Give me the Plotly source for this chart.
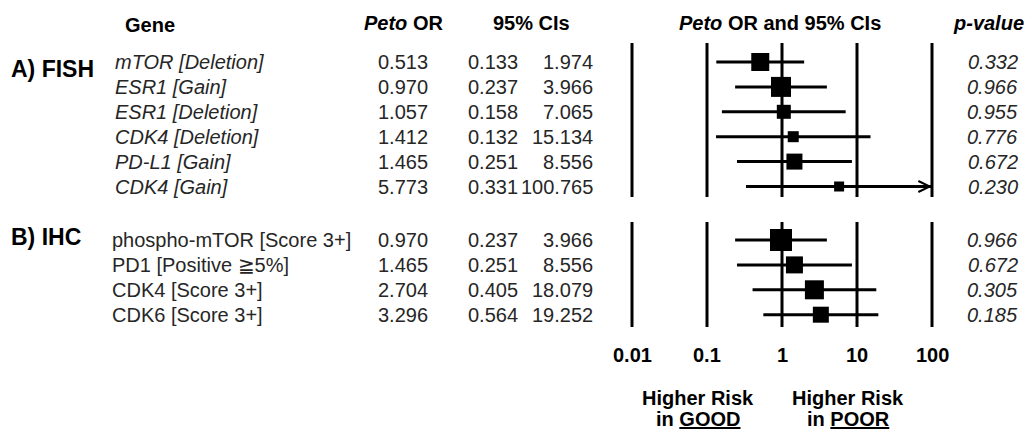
import math
import plotly.graph_objects as go

# ---------------- data ----------------
fish_genes = ["mTOR [Deletion]", "ESR1 [Gain]", "ESR1 [Deletion]",
              "CDK4 [Deletion]", "PD-L1 [Gain]", "CDK4 [Gain]"]
fish_or = [0.513, 0.970, 1.057, 1.412, 1.465, 5.773]
fish_lo = [0.133, 0.237, 0.158, 0.132, 0.251, 0.331]
fish_hi = [1.974, 3.966, 7.065, 15.134, 8.556, 100.765]
fish_p = ["0.332", "0.966", "0.955", "0.776", "0.672", "0.230"]

ihc_genes = ["phospho-mTOR [Score 3+]", "PD1 [Positive \u22675%]",
             "CDK4 [Score 3+]", "CDK6 [Score 3+]"]
ihc_or = [0.970, 1.465, 2.704, 3.296]
ihc_lo = [0.237, 0.251, 0.405, 0.564]
ihc_hi = [3.966, 8.556, 18.079, 19.252]
ihc_p = ["0.966", "0.672", "0.305", "0.185"]

tick_values = [0.01, 0.1, 1, 10, 100]
tick_labels = ["0.01", "0.1", "1", "10", "100"]

# styles (marker weights drawn as square sizes)
fish_sizes = [18, 20, 14, 11, 16, 10]
ihc_sizes = [22, 17, 19, 16]

# ---------------- layout helpers ----------------
W, H = 1028, 432
ROW0, PITCH = 62.0, 24.9
def slot(py):
    return (py - ROW0) / PITCH
def px(x):
    return x / W
def py(y):
    return 1 - y / H

XMIN, XMAX = 0.01, 100
DEC = 75.0  # px per decade
x_left_px, x_right_px = 632 - 12, 932 + 12

fish_y = [i for i in range(len(fish_genes))]
ihc_y = [slot(240) + i for i in range(len(ihc_genes))]

FONT = "Arial, 'Liberation Sans', sans-serif"
TXT = "#262626"
FS = 20

fig = go.Figure()

# vertical reference lines
for top, bot in [(slot(43), slot(197)), (slot(222), slot(327))]:
    xs, ys = [], []
    for v in tick_values:
        xs += [v, v, None]
        ys += [top, bot, None]
    fig.add_trace(go.Scatter(x=xs, y=ys, mode="lines",
                             line=dict(color="black", width=3),
                             hoverinfo="skip", showlegend=False))

# CI lines
ors = fish_or + ihc_or
los = fish_lo + ihc_lo
his = fish_hi + ihc_hi
ys_all = fish_y + ihc_y
sizes = fish_sizes + ihc_sizes
cx, cy = [], []
for lo, hi, y in zip(los, his, ys_all):
    cx += [lo, min(hi, XMAX), None]
    cy += [y, y, None]
fig.add_trace(go.Scatter(x=cx, y=cy, mode="lines",
                         line=dict(color="black", width=3),
                         hoverinfo="skip", showlegend=False))

# squares
fig.add_trace(go.Scatter(x=ors, y=ys_all, mode="markers",
                         marker=dict(symbol="square", size=sizes, color="black",
                                     opacity=1, line=dict(width=0)),
                         cliponaxis=False, hoverinfo="skip", showlegend=False))

annotations = []
# arrowheads for truncated CIs
for hi, y in zip(his, ys_all):
    if hi > XMAX:
        annotations.append(dict(x=math.log10(XMAX), y=y, xref="x", yref="y",
                                ax=math.log10(XMAX) - 0.3, ay=y, axref="x", ayref="y",
                                text="", showarrow=True, arrowhead=5, arrowsize=1.1,
                                arrowwidth=2, arrowcolor="black",
                                standoff=0, startstandoff=0))

def ann(x, y, text, size=FS, xanchor="center", color=TXT, yref="y"):
    annotations.append(dict(x=x, y=y, xref="paper", yref=yref, text=text,
                            showarrow=False, xanchor=xanchor, yanchor="middle",
                            font=dict(family=FONT, size=size, color=color)))

# headers
ann(px(150), py(25), "<b>Gene</b>", color="black", yref="paper")
ann(px(403), py(23), "<b><i>Peto</i> OR</b>", color="black", yref="paper")
ann(px(531), py(23), "<b>95% CIs</b>", color="black", yref="paper")
ann(px(780), py(23), "<b><i>Peto</i> OR and 95% CIs</b>", color="black", yref="paper")
ann(px(988), py(23), "<b><i>p-value</i></b>", color="black", yref="paper")

# section labels
ann(px(9), slot(69), "<b>A) FISH</b>", size=23, xanchor="left", color="black")
ann(px(9), slot(237), "<b>B) IHC</b>", size=23, xanchor="left", color="black")

# rows
for g, o, lo, hi, p, y in zip(fish_genes, fish_or, fish_lo, fish_hi, fish_p, fish_y):
    ann(px(113), y, "<i>%s</i>" % g, xanchor="left")
    ann(px(430), y, "%.3f" % o, xanchor="right")
    ann(px(520), y, "%.3f" % lo, xanchor="right")
    ann(px(595), y, "%.3f" % hi, xanchor="right")
    ann(px(1020), y, "<i>%s</i>" % p, xanchor="right")
for g, o, lo, hi, p, y in zip(ihc_genes, ihc_or, ihc_lo, ihc_hi, ihc_p, ihc_y):
    ann(px(110), y, g, xanchor="left")
    ann(px(430), y, "%.3f" % o, xanchor="right")
    ann(px(520), y, "%.3f" % lo, xanchor="right")
    ann(px(595), y, "%.3f" % hi, xanchor="right")
    ann(px(1020), y, "<i>%s</i>" % p, xanchor="right")

# tick labels
for v, lab in zip(tick_values, tick_labels):
    annotations.append(dict(x=math.log10(v), y=slot(355), xref="x", yref="y",
                            text="<b>%s</b>" % lab, showarrow=False,
                            xanchor="center", yanchor="middle",
                            font=dict(family=FONT, size=FS, color="black")))

# risk labels
ann(px(698), slot(398), "<b>Higher Risk</b>", color="black")
ann(px(698), slot(419), "<b>in <u>GOOD</u></b>", color="black")
ann(px(848), slot(398), "<b>Higher Risk</b>", color="black")
ann(px(848), slot(419), "<b>in <u>POOR</u></b>", color="black")

fig.update_layout(
    width=W, height=H,
    margin=dict(l=0, r=0, t=0, b=0),
    paper_bgcolor="white", plot_bgcolor="white",
    xaxis=dict(type="log", visible=False,
               domain=[px(x_left_px), px(x_right_px)],
               range=[math.log10(XMIN) - 12 / DEC, math.log10(XMAX) + 12 / DEC]),
    yaxis=dict(visible=False, domain=[0, 1],
               range=[slot(H), slot(0)]),
    annotations=annotations,
    showlegend=False,
)

fig.write_html("out.html",
               config={"displayModeBar": False},
               post_script="document.body.style.margin='0';document.body.style.overflow='hidden';")
